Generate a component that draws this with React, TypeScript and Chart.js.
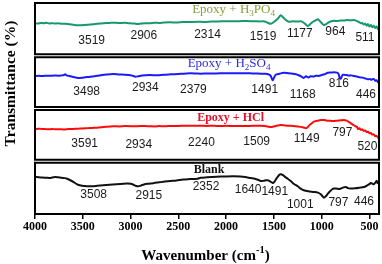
import React, { useEffect, useRef } from 'react';
import { Chart, registerables } from 'chart.js';

Chart.register(...registerables);

// ---------- axis ----------
const xTicks = [4000, 3500, 3000, 2500, 2000, 1500, 1000, 500];
const xMin = 400;
const xMax = 4000;

// ---------- Epoxy + H3PO4 ----------
const h3po4Wn = [4000,3970,3940,3910,3880,3850,3820,3790,3760,3720,3680,3640,3600,3560,3528,3480,3420,3350,3280,3220,3181,3120,3060,3000,2960,2930,2890,2850,2800,2750,2700,2650,2583,2520,2450,2380,2300,2230,2150,2080,2000,1920,1817,1750,1700,1650,1607,1570,1533,1500,1460,1428,1400,1370,1344,1300,1260,1219,1190,1165,1145,1120,1090,1060,1040,1020,1000,977,955,930,900,872,840,800,760,730,700,662,640,620,600,589,575,560,545,530,515,500,485,470,455,440,425,410,400];
const h3po4T = [61.5,61.0,62.3,61.5,62.7,61.2,61.8,61.0,61.6,60.5,60.8,59.5,58.8,58.0,57.7,58.3,59.2,60.5,61.5,62.2,62.7,62.0,62.4,61.5,61.0,60.2,61.0,61.8,61.5,62.5,62.2,63.0,63.4,63.0,63.8,64.0,64.5,64.2,64.8,65.0,65.5,65.3,65.9,65.5,65.6,65.0,65.3,63.0,60.5,64.0,70.0,76.7,72.0,67.0,64.5,65.2,64.8,65.3,63.0,59.0,56.4,60.0,64.5,67.5,69.1,66.0,62.0,58.3,60.0,63.0,65.5,66.2,66.0,66.8,67.0,67.6,67.2,67.8,66.5,64.8,63.0,61.5,62.5,59.0,61.0,57.0,60.0,55.5,58.5,54.0,57.0,52.5,55.5,50.5,53.0];
const h3po4Peaks = ['3519','2906','2314','1519','1177','964','511'];
const h3po4PeakWn = [3407,2861,2195,1612,1229,857,547];
const h3po4PeakLevel = [29.3,37.1,40.3,35.5,41.2,45.0,34.6];

// ---------- Epoxy + H2SO4 ----------
const h2so4Wn = [4000,3960,3920,3880,3840,3800,3760,3720,3700,3685,3670,3640,3600,3549,3500,3450,3400,3350,3300,3250,3181,3120,3060,3000,2970,2950,2920,2880,2800,2720,2656,2580,2500,2440,2373,2300,2268,2200,2100,2030,1950,1880,1800,1750,1700,1638,1590,1560,1535,1520,1512,1500,1481,1440,1397,1350,1303,1270,1240,1210,1187,1165,1140,1114,1090,1060,1030,1009,970,935,900,870,840,825,815,805,799,790,780,767,740,720,690,662,630,600,570,545,515,495,480,465,450,440,425,410,400];
const h2so4T = [61.6,62.0,61.5,62.2,62.0,62.5,62.2,62.8,63.2,65.0,62.8,61.5,59.8,57.8,58.5,59.5,60.8,62.0,63.5,64.5,65.4,64.5,64.0,63.0,61.5,60.3,61.0,62.5,63.5,63.0,64.1,64.8,65.5,66.0,66.7,66.2,66.0,66.5,66.5,67.0,67.0,66.6,67.0,66.6,66.3,66.0,65.8,65.0,62.5,56.0,53.5,58.0,64.1,66.0,67.9,67.0,66.0,65.0,63.0,60.5,57.8,61.0,58.8,61.0,60.5,62.0,61.8,62.9,65.0,67.9,68.2,68.6,68.0,66.0,60.0,57.0,56.5,61.0,64.0,64.1,63.5,62.5,62.8,61.6,60.5,59.0,58.5,57.0,55.4,56.0,54.5,55.8,55.5,52.5,53.5,50.0,50.2];
const h2so4Peaks = ['3498','2934','2379','1491','1168','816','446'];
const h2so4PeakWn = [3459,2845,2342,1596,1198,820,536];
const h2so4PeakLevel = [31.8,39.8,36.6,35.1,27.1,46.1,27.1];

// ---------- Epoxy + HCl ----------
const hclWn = [4000,3970,3950,3920,3900,3870,3850,3820,3790,3750,3700,3650,3600,3550,3500,3450,3400,3349,3300,3250,3181,3120,3060,3000,2950,2900,2850,2800,2740,2700,2656,2600,2550,2500,2440,2373,2320,2268,2200,2150,2100,2050,2000,1922,1850,1750,1700,1638,1600,1580,1555,1533,1510,1480,1450,1428,1400,1350,1300,1250,1200,1180,1166,1150,1130,1100,1082,1050,1009,970,935,900,870,840,800,767,740,720,694,670,650,630,620,605,590,575,560,545,530,515,500,485,470,455,440,425,410,400];
const hclT = [61.1,61.5,61.8,61.0,61.3,60.5,60.6,61.2,60.6,60.8,60.3,61.0,61.3,61.8,62.2,62.8,63.2,63.6,64.5,65.5,66.3,66.0,66.6,66.5,66.2,66.8,66.8,66.4,66.0,66.6,66.3,66.8,66.6,67.0,67.2,67.4,67.2,67.4,67.0,67.3,67.0,66.8,67.2,66.8,67.0,67.0,67.3,67.4,67.0,66.5,65.5,64.9,65.5,67.0,68.0,68.7,68.4,67.4,67.0,66.0,64.5,63.5,62.5,64.0,68.0,72.5,75.0,76.5,78.2,78.0,76.8,76.5,76.3,77.0,77.5,78.2,77.0,75.0,71.9,69.0,66.5,65.0,61.1,62.5,59.5,60.5,57.5,58.5,55.5,56.0,53.0,53.5,50.5,51.0,47.5,48.0,45.0,43.5];
const hclPeaks = ['3591','2934','2240','1509','1149','797','520'];
const hclPeakWn = [3480,2914,2258,1680,1156,783,521];
const hclPeakLevel = [33.3,31.4,34.6,37.8,42.6,54.5,28.3];

// ---------- Blank ----------
const blankWn = [4000,3960,3920,3880,3843,3820,3790,3760,3720,3690,3664,3630,3600,3559,3520,3480,3454,3400,3350,3286,3220,3150,3076,3030,3000,2970,2940,2920,2890,2860,2824,2760,2700,2640,2583,2520,2450,2380,2300,2268,2200,2100,2000,1922,1850,1800,1743,1700,1660,1638,1610,1580,1565,1540,1512,1495,1470,1445,1428,1405,1380,1355,1320,1290,1250,1220,1187,1140,1082,1040,1009,990,977,960,935,910,890,870,840,810,790,770,746,725,700,650,600,557,530,505,484,470,455,440,425,415,405,400];
const blankT = [70.1,69.8,69.0,68.8,68.2,69.2,70.0,69.5,68.5,68.0,66.9,64.0,61.0,56.3,54.0,53.0,52.5,52.8,53.5,54.4,55.5,56.5,57.4,57.6,57.2,55.5,53.0,52.5,54.0,56.0,57.4,58.5,60.0,61.5,62.6,63.5,65.5,66.2,66.9,68.8,69.5,70.5,71.2,71.5,71.0,70.0,68.2,67.0,64.5,62.6,62.8,64.0,63.9,62.0,58.8,61.0,68.0,74.0,75.3,73.5,70.0,66.9,62.0,57.0,52.5,48.0,44.9,43.0,41.7,40.5,37.3,33.5,30.9,33.0,38.5,43.5,47.0,48.5,48.0,47.5,49.0,50.5,51.2,49.0,48.3,48.8,50.0,51.2,53.5,56.0,58.8,57.5,56.3,59.0,63.0,58.5,61.0,62.0];
const blankPeaks = ['3508','2915','2352','1640','1491','1001','797','446'];
const blankPeakWn = [3386,2809,2210,1770,1491,1224,825,557];
const blankPeakLevel = [36.0,34.5,51.2,45.9,41.7,18.6,20.5,23.3];

// ---------- panel titles ----------
const titleWn = [1922, 1969, 1953, 2179];
const titleLevel = [86.7, 84.9, 81.4, 82.8];

type Seg = { t: string; sub?: boolean; sup?: boolean };

const panels = [
  {
    axis: 'yP', weight: 4, wn: h3po4Wn, t: h3po4T, line: '#18996b',
    title: [{ t: 'Epoxy + H' }, { t: '3', sub: true }, { t: 'PO' }, { t: '4', sub: true }] as Seg[],
    titleColor: '#86a03c', titleWeight: 'normal', titleSize: 13,
    peaks: h3po4Peaks, peakWn: h3po4PeakWn, peakLevel: h3po4PeakLevel,
  },
  {
    axis: 'yS', weight: 3, wn: h2so4Wn, t: h2so4T, line: '#1a1aff',
    title: [{ t: 'Epoxy + H' }, { t: '2', sub: true }, { t: 'SO' }, { t: '4', sub: true }] as Seg[],
    titleColor: '#2a2ae0', titleWeight: 'normal', titleSize: 13,
    peaks: h2so4Peaks, peakWn: h2so4PeakWn, peakLevel: h2so4PeakLevel,
  },
  {
    axis: 'yH', weight: 2, wn: hclWn, t: hclT, line: '#ff0a0a',
    title: [{ t: 'Epoxy + HCl' }] as Seg[],
    titleColor: '#e8102a', titleWeight: 'bold', titleSize: 12,
    peaks: hclPeaks, peakWn: hclPeakWn, peakLevel: hclPeakLevel,
  },
  {
    axis: 'yB', weight: 1, wn: blankWn, t: blankT, line: '#111111',
    title: [{ t: 'Blank' }] as Seg[],
    titleColor: '#111111', titleWeight: 'bold', titleSize: 12,
    peaks: blankPeaks, peakWn: blankPeakWn, peakLevel: blankPeakLevel,
  },
];

const SERIF = "'Liberation Serif', 'Times New Roman', serif";
const SANS = "'Liberation Sans', Arial, sans-serif";

function drawRich(ctx: CanvasRenderingContext2D, segs: Seg[], cx: number, y: number, size: number, weight: string) {
  const small = size * 0.7;
  const widths = segs.map((s) => {
    ctx.font = `${weight} ${s.sub || s.sup ? small : size}px ${SERIF}`;
    return ctx.measureText(s.t).width;
  });
  const total = widths.reduce((a, b) => a + b, 0);
  let x = cx - total / 2;
  ctx.textAlign = 'left';
  segs.forEach((s, i) => {
    ctx.font = `${weight} ${s.sub || s.sup ? small : size}px ${SERIF}`;
    const dy = s.sub ? size * 0.28 : s.sup ? -size * 0.45 : 0;
    ctx.fillText(s.t, x, y + dy);
    x += widths[i];
  });
}

const decorPlugin = {
  id: 'decor',
  afterDatasetsDraw(chart: any) {
    const { ctx, chartArea } = chart;
    const xs = chart.scales.x;
    ctx.save();
    panels.forEach((p, idx) => {
      const ys = chart.scales[p.axis];
      const insetTop = idx === 0 ? 0 : 1.5;
      const insetBottom = idx === panels.length - 1 ? 0 : 1.5;
      ctx.strokeStyle = '#000';
      ctx.lineWidth = 2;
      ctx.strokeRect(
        chartArea.left,
        ys.top + insetTop,
        chartArea.right - chartArea.left,
        ys.bottom - ys.top - insetTop - insetBottom
      );

      // title
      ctx.fillStyle = p.titleColor;
      ctx.textBaseline = 'middle';
      drawRich(ctx, p.title, xs.getPixelForValue(titleWn[idx]), ys.getPixelForValue(titleLevel[idx]), p.titleSize, p.titleWeight);

      // peak labels
      ctx.fillStyle = '#1a1a1a';
      ctx.font = `12px ${SANS}`;
      ctx.textAlign = 'center';
      ctx.textBaseline = 'middle';
      p.peaks.forEach((txt, i) => {
        ctx.fillText(txt, xs.getPixelForValue(p.peakWn[i]), ys.getPixelForValue(p.peakLevel[i]));
      });
    });

    // x-axis title
    ctx.fillStyle = '#000';
    ctx.textBaseline = 'alphabetic';
    drawRich(ctx, [{ t: 'Wavenumber (cm' }, { t: '-1', sup: true }, { t: ')' }], 205.5, 260, 15, 'bold');

    // y-axis title
    ctx.save();
    ctx.translate(14.5, 83.5);
    ctx.rotate(-Math.PI / 2);
    ctx.font = `bold 15.5px ${SERIF}`;
    ctx.textAlign = 'center';
    ctx.textBaseline = 'alphabetic';
    ctx.fillText('Transmittance (%)', 0, 0);
    ctx.restore();

    ctx.restore();
  },
};

export default function App() {
  const ref = useRef<HTMLCanvasElement | null>(null);

  useEffect(() => {
    if (!ref.current) return;
    const yScales: any = {};
    panels.forEach((p) => {
      yScales[p.axis] = {
        type: 'linear',
        min: 0,
        max: 100,
        display: false,
        position: 'left',
        stack: 'panels',
        stackWeight: 1,
        weight: p.weight,
      };
    });

    const chart = new Chart(ref.current, {
      type: 'line',
      data: {
        datasets: panels.map((p) => ({
          label: p.axis,
          data: p.wn.map((w, i) => ({ x: w, y: p.t[i] })),
          yAxisID: p.axis,
          borderColor: p.line,
          borderWidth: 2,
          pointRadius: 0,
          tension: 0.25,
          fill: false,
        })),
      },
      options: {
        animation: false,
        responsive: false,
        devicePixelRatio: 1,
        layout: { padding: { top: 3, left: 35, right: 3, bottom: 28.6 } },
        plugins: { legend: { display: false }, tooltip: { enabled: false } },
        scales: {
          x: {
            type: 'linear',
            reverse: true,
            min: xMin,
            max: xMax,
            afterBuildTicks: (s: any) => {
              s.ticks = xTicks.map((v) => ({ value: v }));
            },
            grid: { drawOnChartArea: false, drawTicks: true, tickLength: 5, color: '#000', lineWidth: 1.5 },
            border: { display: false },
            ticks: {
              font: { family: SERIF, size: 12, weight: 'bold' },
              color: '#000',
              padding: 1,
              maxRotation: 0,
              autoSkip: false,
              callback: (v: any) => String(v),
            },
          },
          ...yScales,
        },
      },
      plugins: [decorPlugin],
    } as any);
    return () => chart.destroy();
  }, []);

  return (
    <div style={{ position: 'fixed', left: 0, top: 0, width: 382, height: 264, background: '#fff' }}>
      <canvas ref={ref} width={382} height={264} style={{ width: 382, height: 264 }} />
    </div>
  );
}
